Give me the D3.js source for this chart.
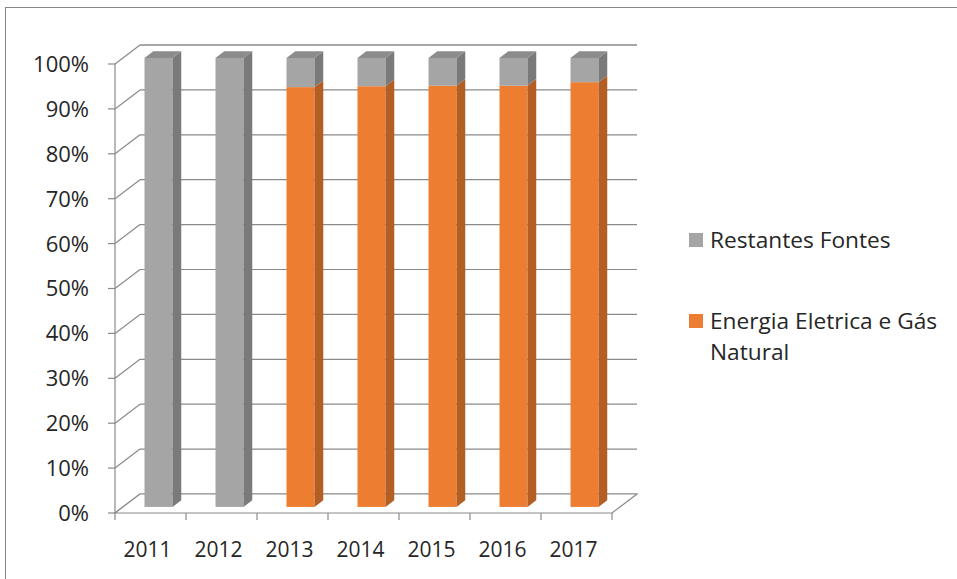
<!DOCTYPE html>
<html>
<head>
<meta charset="utf-8">
<script src="https://cdn.jsdelivr.net/npm/d3@7"></script>
<style>
  body { margin: 0; background: #fff; }
  svg text { font-family: "Open Sans", sans-serif; fill: #262626; }
</style>
</head>
<body>
<div id="chart"></div>
<script>
// data
var years = ["2011", "2012", "2013", "2014", "2015", "2016", "2017"];
var energia = [0, 0, 93.5, 93.7, 93.8, 93.8, 94.6];   // Energia Eletrica e Gás Natural (%)
var restantes = energia.map(function (v) { return 100 - v; }); // Restantes Fontes (%)
var yTicks = [0, 10, 20, 30, 40, 50, 60, 70, 80, 90, 100];
var seriesNames = ["Restantes Fontes", "Energia Eletrica e Gás Natural"];

var width = 957, height = 579;

// front plane of the 3d box
var x0 = 115, x1 = 612, yBottom = 513, yTop = 64;
// depth vector (front -> back)
var depth = { dx: 25, dy: -19 };
var barDepthStart = 0.32, barDepthEnd = 0.67;

var xScale = d3.scaleBand().domain(years).range([x0, x1]);
var yScale = d3.scaleLinear().domain([0, 100]).range([yBottom, yTop]);

var colors = {
    grey:   { front: "#a5a5a5", side: "#7a7a7a", top: "#8c8c8c" },
    orange: { front: "#ed7d31", side: "#b35e22", top: "#c8692a" }
};

var svg = d3.select("#chart").append("svg")
    .attr("width", width)
    .attr("height", height);

// outer frame
svg.append("rect")
    .attr("x", 5.5).attr("y", 7.5)
    .attr("width", 980).attr("height", 600)
    .attr("fill", "none")
    .attr("stroke", "#888")
    .attr("stroke-width", 1);

var gridColor = "#8a8a8a";

// back wall gridlines + left wall diagonals
yTicks.forEach(function (t) {
    var yf = yScale(t);
    svg.append("line")
        .attr("x1", x0 + depth.dx).attr("x2", x1 + depth.dx)
        .attr("y1", yf + depth.dy).attr("y2", yf + depth.dy)
        .attr("stroke", gridColor).attr("stroke-width", t === 100 ? 1.6 : 1.2);
    svg.append("line")
        .attr("x1", x0).attr("y1", yf)
        .attr("x2", x0 + depth.dx).attr("y2", yf + depth.dy)
        .attr("stroke", gridColor).attr("stroke-width", 1.2);
});

// floor
svg.append("polygon")
    .attr("points", [
        [x0, yBottom], [x1, yBottom],
        [x1 + depth.dx, yBottom + depth.dy], [x0 + depth.dx, yBottom + depth.dy]
    ].map(function (p) { return p.join(","); }).join(" "))
    .attr("fill", "#fff")
    .attr("stroke", gridColor).attr("stroke-width", 1.2);

// y axis (front left)
svg.append("line")
    .attr("x1", x0).attr("x2", x0)
    .attr("y1", yBottom).attr("y2", yTop)
    .attr("stroke", gridColor).attr("stroke-width", 1.2);

yTicks.forEach(function (t) {
    svg.append("line")
        .attr("x1", x0 - 7).attr("x2", x0)
        .attr("y1", yScale(t)).attr("y2", yScale(t))
        .attr("stroke", gridColor).attr("stroke-width", 1.2);
    svg.append("text")
        .attr("x", 89)
        .attr("y", yScale(t))
        .attr("dy", "0.36em")
        .attr("text-anchor", "end")
        .style("font-size", "22px")
        .text(t + "%");
});

// x axis ticks + labels
var xTickPos = years.map(function (d) { return xScale(d); }).concat([x1]);
xTickPos.forEach(function (xp) {
    svg.append("line")
        .attr("x1", xp).attr("x2", xp)
        .attr("y1", yBottom).attr("y2", yBottom + 7)
        .attr("stroke", gridColor).attr("stroke-width", 1.2);
});
years.forEach(function (d) {
    svg.append("text")
        .attr("x", xScale(d) + xScale.bandwidth() / 2 - 3)
        .attr("y", 549)
        .attr("dy", "0.36em")
        .attr("text-anchor", "middle")
        .style("font-size", "21px")
        .text(d);
});

// bars
var barW = 28;
var bdx = depth.dx * (barDepthEnd - barDepthStart),
    bdy = depth.dy * (barDepthEnd - barDepthStart);

function drawBox(left, yLow, yHigh, c, withTop) {
    var sx = left, ex = left + barW;
    // front face
    svg.append("rect")
        .attr("x", sx).attr("y", yHigh)
        .attr("width", barW).attr("height", Math.max(0, yLow - yHigh))
        .attr("fill", c.front);
    // right side face
    svg.append("polygon")
        .attr("points", [[ex, yLow], [ex + bdx, yLow + bdy], [ex + bdx, yHigh + bdy], [ex, yHigh]]
            .map(function (p) { return p.join(","); }).join(" "))
        .attr("fill", c.side);
    if (withTop) {
        svg.append("polygon")
            .attr("points", [[sx, yHigh], [ex, yHigh], [ex + bdx, yHigh + bdy], [sx + bdx, yHigh + bdy]]
                .map(function (p) { return p.join(","); }).join(" "))
            .attr("fill", c.top);
    }
}

years.forEach(function (d, i) {
    var left = xScale(d) + (xScale.bandwidth() - barW) / 2 + depth.dx * barDepthStart;
    var off = depth.dy * barDepthStart;
    var e = energia[i], r = restantes[i];
    if (e > 0) {
        drawBox(left, yScale(0) + off, yScale(e) + off, colors.orange, false);
    }
    drawBox(left, yScale(e) + off, yScale(e + r) + off, colors.grey, true);
});

// legend
var legend = [
    { name: seriesNames[0], color: colors.grey.front, y: 240, lines: ["Restantes Fontes"] },
    { name: seriesNames[1], color: colors.orange.front, y: 321, lines: ["Energia Eletrica e Gás", "Natural"] }
];
legend.forEach(function (l) {
    svg.append("rect")
        .attr("x", 689).attr("y", l.y - 7)
        .attr("width", 14).attr("height", 14)
        .attr("fill", l.color);
    var t = svg.append("text")
        .attr("x", 710)
        .attr("y", l.y)
        .style("font-size", "22.7px");
    l.lines.forEach(function (s, k) {
        t.append("tspan")
            .attr("x", 710)
            .attr("dy", k === 0 ? "0.36em" : "31px")
            .text(s);
    });
});
</script>
</body>
</html>
